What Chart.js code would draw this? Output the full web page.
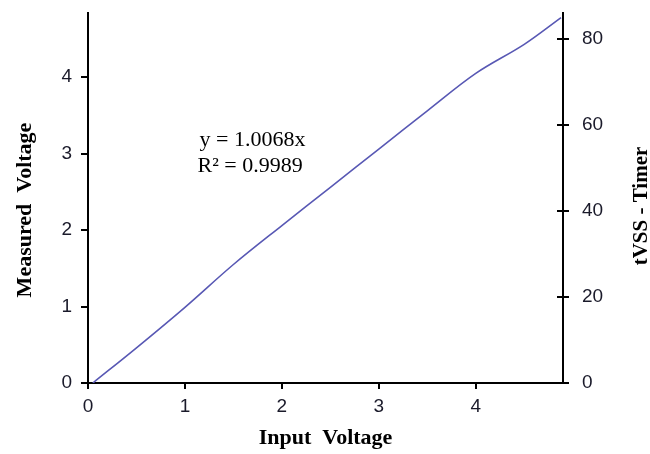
<!DOCTYPE html>
<html>
<head>
<meta charset="utf-8">
<script src="https://cdn.jsdelivr.net/npm/chart.js@4/dist/chart.umd.min.js"></script>
<style>
    html, body { margin: 0; padding: 0; background: #fff; }
    #wrap { width: 650px; height: 454px; }
</style>
</head>
<body>
<div id="wrap"><canvas id="chart" width="650" height="454"></canvas></div>
<script>
// values
const inputVoltage = [0.05, 0.5, 1.0, 1.5, 2.0, 2.5, 3.0, 3.5, 4.0, 4.5, 4.88];
const measuredVoltage = [0, 0.46, 0.99, 1.55, 2.06, 2.56, 3.06, 3.56, 4.05, 4.43, 4.78];
const xTicks = [0, 1, 2, 3, 4];
const leftTicks = [0, 1, 2, 3, 4];
const rightTicks = [0, 20, 40, 60, 80];
const trendLines = ["y = 1.0068x", "R\u00b2 = 0.9989"];

const tickFont = {family: "Liberation Sans", size: 19};
const titleFont = {family: "Liberation Serif", size: 22, weight: "bold"};

// vertical titles (both read bottom-to-top), trendline label, crossing ticks on right axis
const extraText = {
    id: "extraText",
    afterDraw(chart) {
        const ctx = chart.ctx;
        const x = chart.scales.x;
        const y = chart.scales.y;
        const r = chart.scales.y2;
        const midY = (chart.chartArea.top + chart.chartArea.bottom) / 2;
        ctx.save();
        ctx.fillStyle = "#000";
        ctx.font = "22px 'Liberation Serif'";
        ctx.textAlign = "left";
        ctx.textBaseline = "middle";
        ctx.fillText(trendLines[0], x.getPixelForValue(1.15), y.getPixelForValue(3.18));
        ctx.fillText(trendLines[1], x.getPixelForValue(1.13), y.getPixelForValue(2.83));
        ctx.restore();

        ctx.save();
        ctx.fillStyle = "#000";
        ctx.font = "bold 22px 'Liberation Serif'";
        ctx.textAlign = "center";
        ctx.textBaseline = "middle";
        ctx.translate(y.left + 25, midY + 12);
        ctx.rotate(-Math.PI / 2);
        ctx.fillText("Measured  Voltage", 0, 0);
        ctx.restore();

        ctx.save();
        ctx.fillStyle = "#000";
        ctx.font = "bold 21px 'Liberation Serif'";
        ctx.textAlign = "center";
        ctx.textBaseline = "middle";
        ctx.translate(r.right - 8, midY + 8);
        ctx.rotate(-Math.PI / 2);
        ctx.fillText("tVSS - Timer", 0, 0);
        ctx.restore();

        ctx.save();
        ctx.strokeStyle = "#000";
        ctx.lineWidth = 2;
        rightTicks.forEach((v) => {
            const py = Math.round(r.getPixelForValue(v));
            ctx.beginPath();
            ctx.moveTo(r.left - 6, py);
            ctx.lineTo(r.left, py);
            ctx.stroke();
        });
        ctx.restore();
    },
};

new Chart(document.getElementById("chart").getContext("2d"), {
    type: "line",
    data: {
        datasets: [
            {
                label: "Measured",
                data: inputVoltage.map((v, i) => ({x: v, y: measuredVoltage[i]})),
                borderColor: "#5858b4",
                borderWidth: 1.6,
                pointRadius: 0,
                tension: 0.35,
                fill: false,
                yAxisID: "y",
            },
            {
                label: "tVSS - Timer",
                data: [],
                yAxisID: "y2",
            },
        ],
    },
    options: {
        responsive: false,
        animation: false,
        layout: {padding: {top: 13, left: 0, right: 0, bottom: 0}},
        plugins: {
            legend: {display: false},
            tooltip: {enabled: false},
        },
        scales: {
            x: {
                type: "linear",
                min: 0,
                max: 4.9,
                afterFit: (s) => { s.height = 71; s.paddingLeft = 0; s.paddingRight = 0; },
                afterBuildTicks: (s) => { s.ticks = xTicks.map((v) => ({value: v})); },
                border: {display: true, color: "#000", width: 2},
                grid: {display: true, drawOnChartArea: false, drawTicks: true, tickLength: 6, color: "#000", lineWidth: 2},
                ticks: {font: tickFont, color: "#1a1a2a", padding: 6, maxRotation: 0},
                title: {display: true, text: "Input  Voltage", font: titleFont, color: "#000", padding: {top: 0, bottom: 2}},
            },
            y: {
                type: "linear",
                position: "left",
                min: 0,
                max: 4.84,
                afterFit: (s) => { s.width = 88; s.paddingTop = 0; s.paddingBottom = 0; },
                afterBuildTicks: (s) => { s.ticks = leftTicks.map((v) => ({value: v})); },
                border: {display: true, color: "#000", width: 2},
                grid: {display: true, drawOnChartArea: false, drawTicks: true, tickLength: 7, color: "#000", lineWidth: 2},
                ticks: {font: tickFont, color: "#1a1a2a", padding: 9},
            },
            y2: {
                type: "linear",
                position: "right",
                min: 0,
                max: 86,
                afterFit: (s) => { s.width = 87; s.paddingTop = 0; s.paddingBottom = 0; },
                afterBuildTicks: (s) => { s.ticks = rightTicks.map((v) => ({value: v})); },
                border: {display: true, color: "#000", width: 2},
                grid: {display: true, drawOnChartArea: false, drawTicks: true, tickLength: 6, color: "#000", lineWidth: 2},
                ticks: {font: tickFont, color: "#1a1a2a", padding: 13},
            },
        },
    },
    plugins: [extraText],
});
</script>
</body>
</html>
